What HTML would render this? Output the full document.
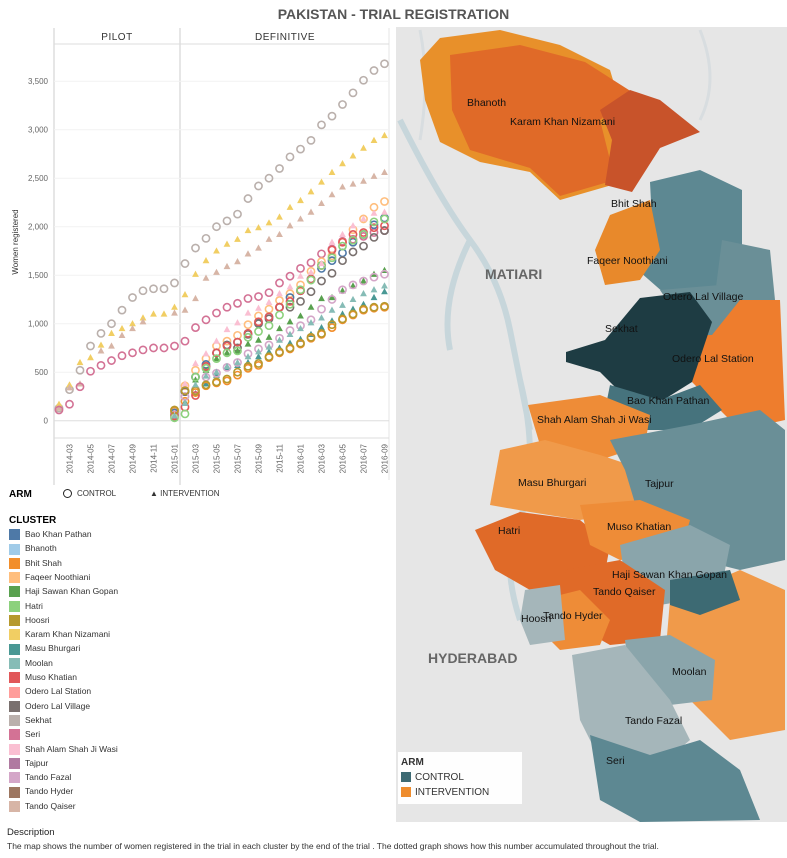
<!DOCTYPE html>
<html><head><meta charset="utf-8">
<style>
body{margin:0;width:787px;height:858px;background:#fff;font-family:"Liberation Sans",sans-serif;overflow:hidden;position:relative}
.t{position:absolute;white-space:nowrap}
.lg{position:absolute;left:9px;font-size:8.5px;color:#333}
.lg i{display:inline-block;width:11px;height:11px;vertical-align:middle;margin-right:5px}
</style></head><body>
<div class="t" style="left:0;width:787px;text-align:center;top:6px;font-size:14px;font-weight:bold;color:#555">PAKISTAN - TRIAL REGISTRATION</div>

<svg id="chart" width="395" height="490" style="position:absolute;left:0;top:0" font-family="Liberation Sans, sans-serif"></svg>

<div class="t" style="left:9px;top:489px;font-size:10px;font-weight:bold">ARM</div>
<div class="t" style="left:63px;top:489px;font-size:8px;color:#333"><span style="display:inline-block;width:7px;height:7px;border:1.5px solid #222;border-radius:50%;vertical-align:middle;margin-right:5px"></span>CONTROL</div>
<div class="t" style="left:150px;top:489px;font-size:8px;color:#333">▲ INTERVENTION</div>
<div class="t" style="left:9px;top:515px;font-size:10px;font-weight:bold">CLUSTER</div>
<div id="legend"></div>

<svg width="391" height="795" style="position:absolute;left:396px;top:27px">
<g transform="translate(-396,-27)">
<rect x="396" y="27" width="391" height="795" fill="#e6e6e6"/>
<path d="M400 120 Q440 200 470 240 Q500 280 510 330 Q520 380 530 430 M470 240 Q440 300 450 350 M520 380 Q540 460 520 520 Q500 560 520 620" stroke="#c7d6db" stroke-width="6" fill="none"/>
<path d="M420 30 Q430 80 420 140 M700 30 Q720 80 700 120" stroke="#d8dde0" stroke-width="3" fill="none"/>
<polygon fill="#e8902a" points="420,60 440,38 500,30 560,45 610,70 622,110 612,185 560,200 530,172 480,162 440,142 425,100"/>
<polygon fill="#e06a28" points="450,55 520,45 585,62 632,92 600,120 615,180 560,196 530,168 470,150 452,110"/>
<polygon fill="#c8532a" points="600,110 630,90 660,100 700,132 660,148 632,192 605,185 612,140"/>
<polygon fill="#5d8892" points="650,182 700,170 742,190 742,245 722,290 672,300 640,272 652,222"/>
<polygon fill="#e8892b" points="610,215 650,200 660,250 640,280 605,285 595,250"/>
<polygon fill="#6a8f97" points="722,240 770,250 775,300 740,310 715,295"/>
<polygon fill="#ee7d2d" points="700,300 740,300 780,300 785,420 740,430 710,400 690,380"/>
<polygon fill="#6a8f97" points="660,290 720,285 740,300 712,335 690,335"/>
<polygon fill="#1e3c43" points="566,352 605,340 640,298 690,292 712,322 692,382 660,402 620,392 600,372 566,362"/>
<polygon fill="#46737d" points="610,385 660,400 700,385 722,410 690,430 640,430 605,410"/>
<polygon fill="#ee8c37" points="528,405 600,395 650,415 645,445 600,460 540,445"/>
<polygon fill="#f09a4a" points="500,450 545,440 600,455 645,470 635,510 580,520 530,512 490,505"/>
<polygon fill="#6a8f97" points="610,440 690,425 760,410 785,430 785,560 740,570 700,560 640,520 625,470"/>
<polygon fill="#e06a28" points="475,530 520,512 580,520 610,545 600,600 565,600 530,590 495,570"/>
<polygon fill="#ee8c37" points="580,505 640,500 690,520 680,555 620,560 590,545"/>
<polygon fill="#8aa5ab" points="620,545 690,525 730,545 720,595 660,605 625,580"/>
<polygon fill="#e06a28" points="565,570 620,560 665,590 660,640 610,645 575,625"/>
<polygon fill="#ee8c37" points="540,600 580,590 610,620 600,645 560,650 540,630"/>
<polygon fill="#a5b6ba" points="525,590 560,585 565,640 530,645 520,620"/>
<polygon fill="#f09a4a" points="670,600 740,570 785,590 785,730 730,740 690,700 665,660"/>
<polygon fill="#3d6a73" points="670,580 730,570 740,600 700,615 670,605"/>
<polygon fill="#8aa5ab" points="625,640 670,635 715,660 712,700 670,705 630,680"/>
<polygon fill="#a5b6ba" points="572,655 625,645 670,700 690,740 660,765 600,760 580,720"/>
<polygon fill="#5d8892" points="590,735 650,755 700,740 740,770 760,820 640,822 600,800"/>
<rect x="398" y="752" width="124" height="52" fill="#fff" opacity="0.95"/>
</g></svg>

<div style="position:absolute;left:0;top:0;font-size:10.5px;color:#111">
<div class="t" style="left:467px;top:97px">Bhanoth</div>
<div class="t" style="left:510px;top:116px">Karam Khan Nizamani</div>
<div class="t" style="left:611px;top:198px">Bhit Shah</div>
<div class="t" style="left:485px;top:266px;font-size:14px;font-weight:bold;color:#666">MATIARI</div>
<div class="t" style="left:587px;top:255px">Faqeer Noothiani</div>
<div class="t" style="left:663px;top:291px">Odero Lal Village</div>
<div class="t" style="left:605px;top:323px">Sekhat</div>
<div class="t" style="left:672px;top:353px">Odero Lal Station</div>
<div class="t" style="left:627px;top:395px">Bao Khan Pathan</div>
<div class="t" style="left:537px;top:414px">Shah Alam Shah Ji Wasi</div>
<div class="t" style="left:518px;top:477px">Masu Bhurgari</div>
<div class="t" style="left:645px;top:478px">Tajpur</div>
<div class="t" style="left:607px;top:521px">Muso Khatian</div>
<div class="t" style="left:498px;top:525px">Hatri</div>
<div class="t" style="left:612px;top:569px">Haji Sawan Khan Gopan</div>
<div class="t" style="left:593px;top:586px">Tando Qaiser</div>
<div class="t" style="left:543px;top:610px">Tando Hyder</div>
<div class="t" style="left:521px;top:613px">Hoosri</div>
<div class="t" style="left:428px;top:650px;font-size:14px;font-weight:bold;color:#666">HYDERABAD</div>
<div class="t" style="left:672px;top:666px">Moolan</div>
<div class="t" style="left:625px;top:715px">Tando Fazal</div>
<div class="t" style="left:606px;top:755px">Seri</div>
<div class="t" style="left:401px;top:757px;font-size:10px;font-weight:bold;color:#333">ARM</div>
<div class="t" style="left:401px;top:772px;font-size:10px;color:#333"><i style="display:inline-block;width:10px;height:10px;background:#3d6a73;vertical-align:middle;margin-right:4px"></i>CONTROL</div>
<div class="t" style="left:401px;top:787px;font-size:10px;color:#333"><i style="display:inline-block;width:10px;height:10px;background:#ee8c2d;vertical-align:middle;margin-right:4px"></i>INTERVENTION</div>
</div>

<div class="t" style="left:7px;top:827px;font-size:9.5px;color:#222">Description</div>
<div class="t" style="left:7px;top:841px;font-size:8.5px;color:#333">The map shows the number of women registered in the trial in each cluster by the end of the trial . The dotted graph shows how this number accumulated throughout the trial.</div>

<script>
const clusterNames=["Bao Khan Pathan","Bhanoth","Bhit Shah","Faqeer Noothiani","Haji Sawan Khan Gopan","Hatri","Hoosri","Karam Khan Nizamani","Masu Bhurgari","Moolan","Muso Khatian","Odero Lal Station","Odero Lal Village","Sekhat","Seri","Shah Alam Shah Ji Wasi","Tajpur","Tando Fazal","Tando Hyder","Tando Qaiser"];
const clusterColors=["#4e79a7","#a0cbe8","#f28e2b","#ffbe7d","#59a14f","#8cd17d","#b6992d","#f1ce63","#499894","#86bcb6","#e15759","#ff9d9a","#79706e","#bab0ac","#d37295","#fabfd2","#b07aa1","#d4a6c8","#9d7660","#d7b5a6"];
const yTicks=[0,500,1000,1500,2000,2500,3000,3500];
const xTickLabels=["2014-03","2014-05","2014-07","2014-09","2014-11","2015-01","2015-03","2015-05","2015-07","2015-09","2015-11","2016-01","2016-03","2016-05","2016-07","2016-09"];
const xTickMonths=[1,3,5,7,9,11,13,15,17,19,21,23,25,27,29,31];
// pilot series: start month 0 (2014-02)
const pilotSekhat=[130,320,520,770,900,1000,1140,1270,1340,1360,1360,1420];
const pilotKaram=[170,370,600,650,780,900,950,1000,1060,1100,1100,1170];
const pilotQaiser=[130,340,380,null,720,770,880,950,1020,null,null,1110];
const pilotSeri=[110,170,350,510,570,620,670,700,730,750,750,770];
// definitive series: start month 12 or 11
const defSekhat=[1620,1780,1880,2000,2060,2130,2290,2420,2500,2600,2720,2800,2890,3050,3140,3260,3380,3510,3610,3680];
const defKaram=[1300,1510,1650,1750,1820,1870,1960,1990,2040,2100,2200,2270,2360,2460,2560,2650,2730,2810,2890,2940];
const defQaiser=[1140,1260,1470,1530,1590,1640,1720,1780,1870,1920,2010,2080,2150,2240,2330,2410,2440,2470,2520,2560];
const defSeri=[820,960,1040,1110,1170,1210,1260,1280,1320,1420,1490,1570,1630,1720,1770,1850,1870,1900,1940,1960];
const defFaqeer=[110,360,520,640,770,820,880,990,1080,1150,1240,1310,1400,1540,1640,1700,1840,1970,2080,2200,2260];
const defBaoKhan=[80,300,450,580,700,780,810,900,1010,1070,1170,1270,1340,1460,1570,1650,1730,1840,1920,2020,2090];
const defOderoVillage=[60,300,450,560,700,780,750,890,1000,1050,1170,1170,1230,1330,1440,1520,1650,1740,1800,1890,1960];
const defHaji=[30,190,420,520,640,700,720,790,830,860,950,1020,1080,1170,1260,1270,1340,1390,1440,1510,1550];
const defMasu=[40,180,280,380,470,550,570,600,660,710,750,800,840,890,960,1030,1100,1150,1200,1270,1330];
const defBhitShah=[100,200,290,360,390,410,470,540,570,650,700,740,790,850,890,960,1040,1090,1140,1160,1170];
const defTandoFazal=[60,250,320,450,490,550,600,690,740,780,850,930,980,1040,1150,1250,1350,1400,1440,1480,1510];
const defMuso=[50,140,260,560,700,770,810,900,1020,1070,1170,1230,1340,1460,1600,1760,1840,1920,1940,1990,2010];
const defHatri=[30,70,450,540,640,700,720,860,920,980,1090,1200,1350,1450,1600,1680,1800,1860,1920,2050,2080];
const defShahAlam=[60,380,590,690,820,940,1010,1110,1160,1220,1310,1380,1490,1530,1620,1840,1920,2010,2080,2140,2150];
const defHoosri=[110,310,310,370,400,430,500,560,590,660,710,750,800,860,900,990,1050,1100,1150,1170,1180];
const defMoolan=[50,180,370,460,500,560,600,660,710,760,830,890,950,1010,1060,1140,1190,1250,1310,1350,1390];

const series=[
 {v:pilotSekhat,s:0,c:13,sh:"o"},{v:pilotKaram,s:0,c:7,sh:"t"},{v:pilotQaiser,s:0,c:19,sh:"t"},{v:pilotSeri,s:0,c:14,sh:"o"},
 {v:defSekhat,s:12,c:13,sh:"o"},{v:defKaram,s:12,c:7,sh:"t"},{v:defQaiser,s:12,c:19,sh:"t"},{v:defSeri,s:12,c:14,sh:"o"},
 {v:defFaqeer,s:11,c:3,sh:"o"},{v:defBaoKhan,s:11,c:0,sh:"o"},{v:defOderoVillage,s:11,c:12,sh:"o"},{v:defHaji,s:11,c:4,sh:"t"},
 {v:defMasu,s:11,c:8,sh:"t"},{v:defBhitShah,s:11,c:2,sh:"o"},{v:defTandoFazal,s:11,c:17,sh:"o"},{v:defMuso,s:11,c:10,sh:"o"},
 {v:defHatri,s:11,c:5,sh:"o"},{v:defShahAlam,s:11,c:15,sh:"t"},{v:defHoosri,s:11,c:6,sh:"o"},{v:defMoolan,s:11,c:9,sh:"t"}
];
const NS="http://www.w3.org/2000/svg";
const svg=document.getElementById("chart");
const X=m=>59+10.5*m;
const Y=v=>420.7-v*48.5/500;
function el(tag,attrs,parent){const e=document.createElementNS(NS,tag);for(const k in attrs)e.setAttribute(k,attrs[k]);(parent||svg).appendChild(e);return e;}
// frame
let e;
e=el("line",{x1:54,y1:28,x2:54,y2:485,stroke:"#ccc"});


e=el("line",{x1:180,y1:28,x2:180,y2:485,stroke:"#ccc"});


el("line",{x1:389,y1:28,x2:389,y2:480,stroke:"#e4e4e4"});
el("line",{x1:54,y1:44,x2:389,y2:44,stroke:"#ddd"});
el("line",{x1:54,y1:438,x2:389,y2:438,stroke:"#ddd"});
e=el("text",{x:117,y:40,"text-anchor":"middle","font-size":10,fill:"#333","letter-spacing":"0.5"});e.textContent="PILOT";


e=el("text",{x:285,y:40,"text-anchor":"middle","font-size":10,fill:"#333","letter-spacing":"0.5"});e.textContent="DEFINITIVE";


yTicks.forEach(t=>{
 el("line",{x1:54,y1:Y(t),x2:389,y2:Y(t),stroke:t===0?"#ddd":"#f2f2f2"});
 const tx=el("text",{x:48,y:Y(t)+3,"text-anchor":"end","font-size":8,fill:"#666"});
 tx.textContent=t.toLocaleString("en-US");
 
 
});
e=el("text",{x:18,y:242,"text-anchor":"middle","font-size":8,fill:"#333",transform:"rotate(-90 18 242)"});e.textContent="Women registered";


xTickLabels.forEach((l,i)=>{
 const x=X(xTickMonths[i]);
 const tx=el("text",{x:x+3,y:444,"text-anchor":"end","font-size":8,fill:"#666",transform:`rotate(-90 ${x+3} 444)`});
 tx.textContent=l;
 
 
});
series.forEach(s=>{
 const col=clusterColors[s.c];
 s.v.forEach((v,i)=>{
  if(v===null)return;
  const x=X(s.s+i),y=Y(v);let m;
  if(s.sh==="o") m=el("circle",{cx:x,cy:y,r:3.6,fill:"none",stroke:col,"stroke-width":1.6});
  else m=el("polygon",{points:`${x},${y-3.6} ${x+3.4},${y+2.6} ${x-3.4},${y+2.6}`,fill:col});
  
  
 });
});
const lg=document.getElementById("legend");
clusterNames.forEach((n,i)=>{
 const d=document.createElement("div");d.className="lg";d.style.top=(529+i*14.3)+"px";
 d.innerHTML=`<i style="background:${clusterColors[i]}"></i>${n}`;
 
 
 lg.appendChild(d);
});
</script>
</body></html>
